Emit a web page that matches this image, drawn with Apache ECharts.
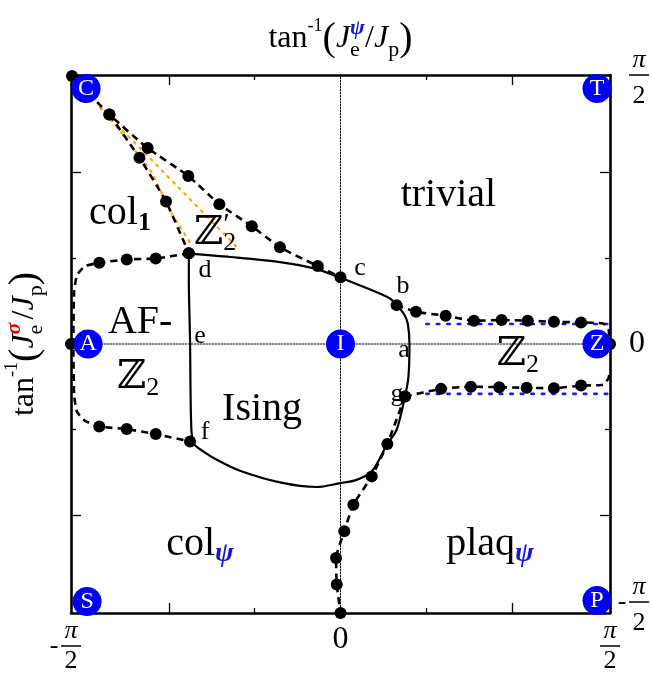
<!DOCTYPE html>
<html><head><meta charset="utf-8">
<script src="https://cdn.jsdelivr.net/npm/echarts@6/dist/echarts.min.js"></script>
<style>html,body{margin:0;padding:0;background:#fff}#c{width:651px;height:673px}</style>
</head><body><div id="c"></div>
<script>
const HP = Math.PI / 2;
const SERIF = "'Liberation Serif','DejaVu Serif',serif";

// ---- data (radians) ----
const branchCUpper = [[-1.565,1.565],[-1.347,1.340],[-1.124,1.144],[-0.887,0.981],[-0.706,0.816],[-0.517,0.688],[-0.353,0.565],[-0.133,0.455],[0.0,0.390]];
const branchCLower = [[-1.347,1.340],[-1.172,1.088],[-1.017,0.832],[-0.884,0.530]];
const branchLeftLoop = [[-0.884,0.530],[-1.077,0.499],[-1.246,0.494],[-1.406,0.474],[-1.489,0.455],[-1.536,0.402],[-1.553,0.303],[-1.557,0.0],[-1.553,-0.297],[-1.536,-0.396],[-1.489,-0.449],[-1.406,-0.482],[-1.246,-0.497],[-1.077,-0.526],[-0.877,-0.569]];
const branchLeftLoopDots = [1,1,1,1,0,0,0,0,0,0,0,1,1,1,1];
const branchRightUpper = [[0.327,0.227],[0.440,0.188],[0.613,0.165],[0.778,0.136],[0.939,0.140],[1.091,0.136],[1.244,0.130],[1.402,0.126],[1.530,0.120],[1.562,0.085],[1.571,0.0]];
const branchRightUpperDots = [1,1,1,1,1,1,1,1,0,0,1];
const branchRightLower = [[0.376,-0.306],[0.586,-0.262],[0.760,-0.249],[0.925,-0.252],[1.085,-0.256],[1.244,-0.258],[1.402,-0.243],[1.530,-0.238],[1.562,-0.200],[1.571,-0.150]];
const branchRightLowerDots = [1,1,1,1,1,1,1,0,0,0];
const branchBottom = [[0.376,-0.306],[0.273,-0.584],[0.182,-0.773],[0.075,-0.938],[0.022,-1.094],[-0.026,-1.249],[-0.022,-1.404],[0.0,-1.571]];
const extraDots = [[-1.571,0.0]];
const isingBoundary = [[-0.884,0.528],[-0.640,0.508],[-0.353,0.478],[-0.150,0.440],[0.0,0.387],[0.133,0.334],[0.288,0.266],[0.327,0.227],[0.370,0.175],[0.392,0.120],[0.402,0.0],[0.396,-0.191],[0.376,-0.306],[0.327,-0.501],[0.273,-0.584],[0.182,-0.745],[0.090,-0.795],[0.0,-0.812],[-0.139,-0.835],[-0.353,-0.808],[-0.586,-0.740],[-0.721,-0.676],[-0.800,-0.627],[-0.858,-0.577],[-0.871,-0.443],[-0.877,0.023],[-0.884,0.380],[-0.884,0.528]];
const orangeA = [[-1.40,1.38],[-0.586,0.548]];
const orangeB = [[-1.40,1.38],[-1.295,1.257],[-1.100,1.004],[-0.984,0.762],[-0.867,0.577]];
const blueUpper = [[0.50,0.117],[1.571,0.117]];
const blueLower = [[0.50,-0.291],[1.571,-0.291]];
const zeroV = [[0,-HP],[0,HP]];
const zeroH = [[-HP,0],[HP,0]];

const nodeNames = ['C','T','A','I','Z','S','P'];
const nodeX = [-1.483, 1.495, -1.471, 0.0, 1.495, -1.477, 1.495];
const nodeY = [1.492, 1.492, 0.0, 0.0, 0.0, -1.503, -1.498];

const phaseText = ['{rm|trivial}','{rm|col}{bsub|1}','{bb|ℤ}{sup0|′}{sub|2}','{rm|AF-}','{bb|ℤ}{sub|2}','{rm|Ising}','{bb|ℤ}{sub|2}','{rm|col}{psub|ψ}','{rm|plaq}{psub|ψ}'];
const phaseX = [0.629,-1.285,-0.731,-1.168,-1.180,-0.457,1.034,-0.819,0.871];
const phaseY = [0.868,0.763,0.647,0.128,-0.198,-0.385,-0.064,-1.171,-1.171];

const pointText = ['d','c','b','a','e','g','f'];
const pointX = [-0.790,0.114,0.364,0.370,-0.819,0.329,-0.790];
const pointY = [0.431,0.443,0.338,-0.035,0.047,-0.291,-0.513];

const majorTicks = [-1, 1];
const minorTicks = [-0.5, 0.5];
const labelValues = [-HP, 0, HP];

// ---- helpers ----
const fracRich = {
  n:{fontSize:26,fontFamily:SERIF,fontStyle:'italic',width:20,align:'center',lineHeight:22,color:'#000'},
  bar:{width:20,height:1.5,backgroundColor:'#000',lineHeight:8},
  d:{fontSize:26,fontFamily:SERIF,width:20,align:'center',lineHeight:22,color:'#000'},
  d2:{fontSize:26,fontFamily:SERIF,width:20,align:'center',lineHeight:34,color:'#000'},
  m:{fontSize:26,fontFamily:SERIF,width:14,align:'center',lineHeight:8,color:'#000'},
  sp:{width:14,lineHeight:8},
  gTop:{width:14,lineHeight:12},
  gBot:{width:14,lineHeight:10},
  z:{fontSize:32,fontFamily:SERIF,lineHeight:40,color:'#000'}
};
function fracBottom(v){
  if (Math.abs(v) < 1e-9) return '{z|0}';
  const left = v < 0 ? '{m|-}' : '{sp| }';
  return '{sp| }{n|π}{sp| }\n' + left + '{bar| }{sp| }\n{sp| }{d|2}{sp| }';
}
function fracRight(v){
  if (Math.abs(v) < 1e-9) return '{sp| }{z|0}';
  const left = v < 0 ? '{m|-}' : '{sp| }';
  const body = '{sp| }{n|π}\n' + left + '{bar| }\n{sp| }{d2|2}';
  return v > 0 ? '{gTop| }\n' + body : body + '\n{gBot| }';
}
const nameRich = {
  t:{fontSize:32,fontFamily:SERIF,lineHeight:44,color:'#000',align:'left'},
  par:{fontSize:40,fontFamily:SERIF,lineHeight:44,color:'#000',align:'left'},
  J:{fontSize:32,fontFamily:SERIF,fontStyle:'italic',lineHeight:44,color:'#000',align:'left'},
  sup:{fontSize:18,fontFamily:SERIF,verticalAlign:'top',lineHeight:30,color:'#000',align:'left'},
  gpsi:{fontSize:22,fontFamily:SERIF,fontStyle:'italic',fontWeight:'bold',color:'#1515e0',verticalAlign:'top',lineHeight:28,width:0.01,align:'left'},
  gsig:{fontSize:22,fontFamily:SERIF,fontStyle:'italic',fontWeight:'bold',color:'#e00000',verticalAlign:'top',lineHeight:28,width:0.01,align:'left'},
  e:{fontSize:22,fontFamily:SERIF,verticalAlign:'bottom',lineHeight:30,width:15,align:'left',color:'#000'},
  p:{fontSize:22,fontFamily:SERIF,verticalAlign:'bottom',lineHeight:30,color:'#000',align:'left'}
};
const xName = '{t|tan}{sup|-1}{par|(}{J|J}{gpsi|ψ}{e|e}{t|/}{J|J}{p|p}{par|)}';
const yName = '{t|tan}{sup|-1}{par|(}{J|J}{gsig|σ}{e|e}{t|/}{J|J}{p|p}{par|)}';

const labelRich = {
  rm:{fontSize:40,fontFamily:SERIF,color:'#000',lineHeight:46,align:'left'},
  bb:{fontSize:40,fontFamily:"'DejaVu Serif',serif",color:'#000',lineHeight:46,align:'left'},
  sub:{fontSize:26,fontFamily:SERIF,color:'#000',verticalAlign:'bottom',lineHeight:26,align:'left'},
  bsub:{fontSize:26,fontFamily:SERIF,fontWeight:'bold',color:'#000',verticalAlign:'bottom',lineHeight:26,align:'left'},
  psub:{fontSize:28,fontFamily:SERIF,fontWeight:'bold',fontStyle:'italic',color:'#1515e0',verticalAlign:'bottom',lineHeight:26,align:'left'},
  sup0:{fontSize:30,fontFamily:SERIF,color:'#000',verticalAlign:'top',lineHeight:30,width:0.01,align:'left'}
};

const G = {left:71, top:75, width:539, height:538, outerBoundsMode:'none', containLabel:false, show:false};
function mkX(gi, pos, ticks, len, opts){
  return Object.assign({type:'value', gridIndex:gi, position:pos, min:-HP, max:HP,
    axisLine:{show:true, onZero:false, lineStyle:{color:'#000', width:2.6}},
    axisTick:{show:true, inside:true, length:len, customValues:ticks, lineStyle:{color:'#000', width:1.3}},
    axisLabel:{show:false}, splitLine:{show:false}}, opts||{});
}
function dashedSeries(data, flags){
  return {type:'line', xAxisIndex:0, yAxisIndex:0, clip:false, z:4, silent:true,
    showAllSymbol:true, symbolSize:12,
    data:data.map((p,i)=>({value:p, symbol:(flags && !flags[i]) ? 'none' : 'circle'})),
    itemStyle:{color:'#000', opacity:1}, lineStyle:{color:'#000', width:2.6, type:[7,5]}, smooth:0.15};
}
function plainLine(data, color, width, type, z, smooth){
  return {type:'line', xAxisIndex:0, yAxisIndex:0, clip:false, z:z, silent:true, symbol:'none',
    data:data, lineStyle:{color:color, width:width, type:type, cap:'round'}, smooth:smooth||0};
}

const chart = echarts.init(document.getElementById('c'));
chart.setOption({
  animation:false,
  backgroundColor:'#fff',
  grid:[Object.assign({},G),Object.assign({},G),Object.assign({},G),Object.assign({},G)],
  xAxis:[
    mkX(0,'bottom',majorTicks,10,{axisLabel:{show:true, customValues:labelValues, margin:7, formatter:fracBottom, rich:fracRich, verticalAlign:'top'}}),
    mkX(1,'top',majorTicks,10,{name:xName, nameLocation:'middle', nameGap:14, nameTextStyle:{rich:nameRich}}),
    mkX(2,'bottom',minorTicks,5,{axisLine:{show:false, onZero:false}}),
    mkX(3,'top',minorTicks,5,{axisLine:{show:false, onZero:false}})
  ],
  yAxis:[
    mkX(0,'left',majorTicks,10,{name:yName, nameLocation:'middle', nameGap:24, nameRotate:90, nameTextStyle:{rich:nameRich}}),
    mkX(1,'right',majorTicks,10,{axisLabel:{show:true, customValues:labelValues, margin:5, formatter:fracRight, rich:fracRich, align:'left', verticalAlign:'middle'}}),
    mkX(2,'left',minorTicks,5,{axisLine:{show:false, onZero:false}}),
    mkX(3,'right',minorTicks,5,{axisLine:{show:false, onZero:false}})
  ],
  series:[
    plainLine(zeroV,'#000',1,[1.5,1.5],1),
    plainLine(zeroH,'#000',1,[1.5,1.5],1),
    plainLine(orangeA,'#ffa500',2.2,[2,6],2),
    plainLine(orangeB,'#ffa500',2.2,[2,6],2),
    plainLine(blueUpper,'#1a1aff',2.6,[2.5,8],2),
    plainLine(blueLower,'#1a1aff',2.6,[2.5,8],2),
    plainLine(isingBoundary,'#000',2.2,'solid',3,0.3),
    dashedSeries(branchCUpper),
    dashedSeries(branchCLower),
    dashedSeries(branchLeftLoop, branchLeftLoopDots),
    dashedSeries(branchRightUpper, branchRightUpperDots),
    dashedSeries(branchRightLower, branchRightLowerDots),
    dashedSeries(branchBottom),
    {type:'scatter', xAxisIndex:0, yAxisIndex:0, clip:false, z:4, silent:true, symbolSize:12,
      itemStyle:{color:'#000', opacity:1}, data:extraDots},
    {type:'scatter', xAxisIndex:0, yAxisIndex:0, clip:false, z:8, silent:true, symbolSize:1,
      itemStyle:{color:'rgba(0,0,0,0)', opacity:1},
      label:{show:true, position:'inside', rich:labelRich, formatter:(p)=>phaseText[p.dataIndex]},
      data:phaseX.map((x,i)=>[x,phaseY[i]])},
    {type:'scatter', xAxisIndex:0, yAxisIndex:0, clip:false, z:8, silent:true, symbolSize:1,
      itemStyle:{color:'rgba(0,0,0,0)', opacity:1},
      label:{show:true, position:'inside', fontSize:26, fontFamily:SERIF, color:'#000', formatter:(p)=>pointText[p.dataIndex]},
      data:pointX.map((x,i)=>[x,pointY[i]])},
    {type:'scatter', xAxisIndex:0, yAxisIndex:0, clip:false, z:10, silent:true, symbolSize:29,
      itemStyle:{color:'#0000f5', opacity:1},
      label:{show:true, position:'inside', fontSize:24, fontFamily:SERIF, color:'#fff', formatter:'{b}'},
      data:nodeNames.map((n,i)=>({name:n, value:[nodeX[i],nodeY[i]]}))}
  ]
});
</script></body></html>
